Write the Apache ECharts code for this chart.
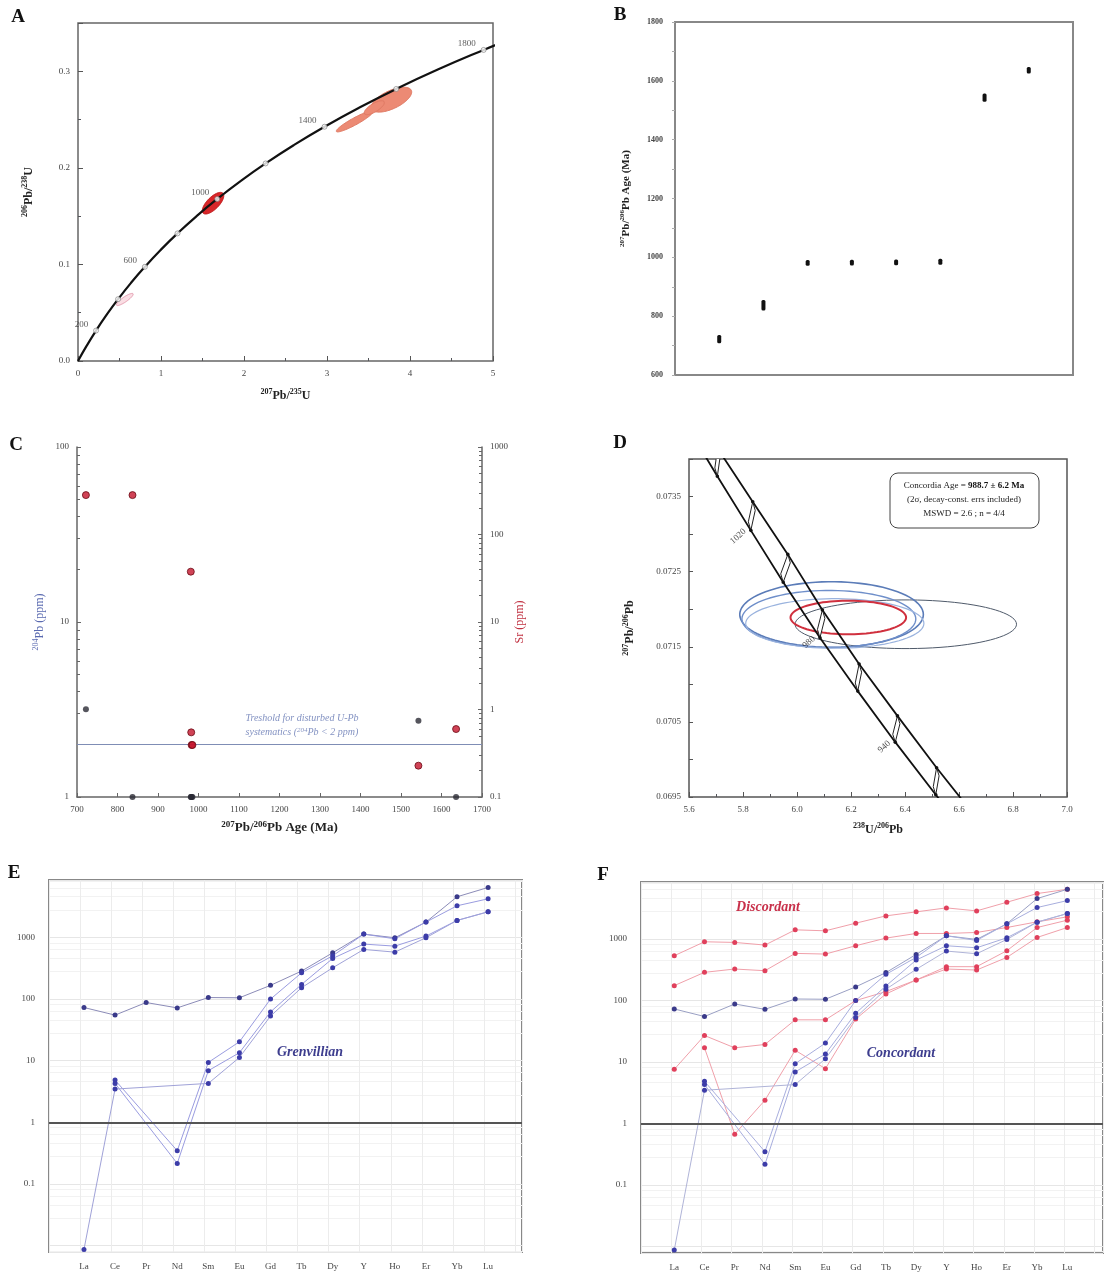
<!DOCTYPE html>
<html><head><meta charset="utf-8">
<script src="https://cdn.jsdelivr.net/npm/echarts@6/dist/echarts.min.js"></script>
<style>html,body{margin:0;padding:0;background:#fff}#c{width:1105px;height:1274px}</style>
</head><body><div id="c"></div>
<script>
// ================= DATA =================
// Panel A: Wetherill concordia reference (age in Ma, 207Pb/235U, 206Pb/238U)
const concAges = [0,100,200,300,400,500,600,700,800,900,1000,1100,1200,1300,1400,1500,1600,1700,1800,1850];
const concX = [0,0.1035,0.2177,0.3437,0.4828,0.6363,0.8056,0.9925,1.1987,1.4263,1.6774,1.9545,2.2603,2.5977,2.9701,3.3810,3.8344,4.3348,4.8869,5.1840];
const concY = [0,0.01563,0.03151,0.04764,0.06402,0.08065,0.09754,0.11470,0.13213,0.14982,0.16780,0.18604,0.20459,0.22343,0.24257,0.26200,0.28172,0.30177,0.32212,0.33239];
const concLabelAges = [200,600,1000,1400,1800];
// Panel A error ellipses: [centre x, centre y, half-axis u (x,y), half-axis v (x,y)]
const ellA1 = [0.564, 0.0637, 0.099, 0.0059, -0.017, 0.0021];
const ellA2 = [1.627, 0.1634, 0.119, 0.0103, -0.051, 0.0044];
const ellA3 = [3.334, 0.2481, 0.221, 0.0104, -0.020, 0.0032];
const ellA4 = [3.776, 0.2706, 0.240, 0.0097, -0.046, 0.0085];
const ellA5 = [3.570, 0.2623, 0.120, 0.0060, -0.020, 0.0040];

// Panel B / C: grains
const grainIndex = [1,2,3,4,5,6,7,8];
const grainAge = [722,837,981,982,983,985,1543,1636];
const grainErr = [14,18,10,10,10,10,14,11];
const pb204 = [3.17,1,1,1,1,1,2.73,1];
const srPpm = [282,282,37.6,0.548,0.393,0.393,0.228,0.598];
const pbThreshold = 2;

// Panel D: Tera-Wasserburg concordia band (age Ma, upper line x/y, lower line x/y)
const bandAges = [1060,1040,1020,1000,980,960,940,920,900];
const bandRX = [5.578,5.706,5.836,5.966,6.094,6.230,6.372,6.517,6.667];
const bandRY = [0.07486,0.07414,0.07343,0.07273,0.07199,0.07127,0.07058,0.06989,0.06921];
const bandLX = [5.583,5.705,5.829,5.949,6.085,6.225,6.364,6.514,6.663];
const bandLY = [0.07450,0.07377,0.07305,0.07236,0.07162,0.07091,0.07023,0.06953,0.06885];
const bandLabelAges = [1020,980,940];
// Panel D ellipses: [cx, cy, ux, uy, vx, vy]
const ellD_blue1 = [6.128, 0.07193, 0.340, 0, 0, 0.000436];
const ellD_blue2 = [6.118, 0.07187, 0.322, 0, 0, 0.000380];
const ellD_blue3 = [6.140, 0.07181, 0.330, 0, 0, 0.000330];
const ellD_grey  = [6.403, 0.07180, 0.410, 0, 0, 0.000324];
const ellD_red   = [6.190, 0.07189, 0.214, 0, 0, 0.000224];

// Panels E / F: chondrite-normalised REE
const ree = ['La','Ce','Pr','Nd','Sm','Eu','Gd','Tb','Dy','Y','Ho','Er','Yb','Lu'];
const concFlat = [73,55,88,72,106,105,167,285,564,1133,988,1774,4567,6470];
const concB = [null,4.86,null,0.347,9.4,20.3,100,267,504,1133,951,1774,3264,4236];
const concC = [null,4.29,null,0.216,6.9,13.5,62,173,456,780,723,1051,1888,2608];
const concA = [0.0087,3.47,null,null,4.29,11.3,53,153,322,639,578,988,1888,2608];
const disc1 = [537,905,883,800,1416,1365,1817,2388,2775,3223,2880,3981,5510,6470];
const disc2 = [175,288,326,306,586,571,780,1038,1236,1236,1283,1545,1911,2301];
const disc3 = [7.6,27,17,19.3,48.6,48.6,100,140,216,356,356,647,1545,2032];
const disc4 = [null,17,0.67,2.39,15.5,7.8,50,128,216,326,314,504,1064,1545];

// ================= CHART =================
const SERIF = 'Liberation Serif';
const chart = echarts.init(document.getElementById('c'));
const lbl = (o) => Object.assign({fontFamily: SERIF, fontSize: 9, color: '#444'}, o || {});
const supRich = (size, weight, color) => ({s: {fontFamily: SERIF, fontSize: size, fontWeight: weight, color: color, verticalAlign: 'top'}});
const nameStyle = (o, supSize) => {
  const base = Object.assign({fontFamily: SERIF, fontSize: 12, fontWeight: 'bold', color: '#222'}, o || {});
  base.rich = supRich(supSize || 8, base.fontWeight, base.color);
  base.lineHeight = base.fontSize + 3;
  return base;
};
const plain = v => String(parseFloat(Number(v).toPrecision(6)));

function ellipseSeries(xi, yi, e, style, z) {
  return {
    type: 'custom', xAxisIndex: xi, yAxisIndex: yi, clip: true, z: z || 3, silent: true,
    data: [e],
    renderItem: (p, api) => {
      const cx = api.value(0), cy = api.value(1), ux = api.value(2), uy = api.value(3), vx = api.value(4), vy = api.value(5);
      const pts = [];
      for (let k = 0; k < 90; k++) {
        const t = k / 90 * Math.PI * 2;
        pts.push(api.coord([cx + ux * Math.cos(t) + vx * Math.sin(t), cy + uy * Math.cos(t) + vy * Math.sin(t)]));
      }
      return {type: 'polygon', shape: {points: pts}, style: style};
    }
  };
}

const logLabel = (v) => {
  const l = Math.log10(v), r = Math.round(l);
  if (Math.abs(l - r) > 1e-6 || r < -1 || r > 3) return '';
  return r < 0 ? String(Math.pow(10, r).toFixed(-r)) : String(Math.pow(10, r));
};
const reeLabel = (v) => { const i = Math.round(v); return (Math.abs(v - i) < 1e-6 && i >= 0 && i < ree.length) ? ree[i] : ''; };

function reeSeries(vals, xi, yi, lineColor, markColor, extra) {
  return Object.assign({
    type: 'line', xAxisIndex: xi, yAxisIndex: yi, connectNulls: true, silent: true,
    data: vals.map((v, i) => [i, v]), symbol: 'circle', symbolSize: 5,
    lineStyle: {color: lineColor, width: 1}, itemStyle: {color: markColor}, z: 4
  }, extra || {});
}
const oneLine = {silent: true, symbol: 'none', label: {show: false}, lineStyle: {color: '#555', width: 2, type: 'solid'}, data: [{yAxis: 1}]};

const ageMarks = concAges.map((a, i) => [concX[i], concY[i], a]).filter(d => d[2] > 0 && d[2] % 200 === 0);

const option = {
  animation: false,
  backgroundColor: '#fff',
  grid: [
    {left: 78, top: 23, width: 415, height: 338, show: true, borderColor: '#666', borderWidth: 1.5},
    {left: 675, top: 22, width: 398, height: 353, show: true, borderColor: '#888', borderWidth: 2},
    {left: 77, top: 447, width: 405, height: 350, show: false},
    {left: 689, top: 459, width: 378, height: 338, show: true, borderColor: '#555', borderWidth: 1.5},
    {left: 49, top: 880, width: 473, height: 372, show: true, borderColor: '#888', borderWidth: 2},
    {left: 641, top: 882, width: 462, height: 371, show: true, borderColor: '#888', borderWidth: 2}
  ],
  xAxis: [
    {gridIndex: 0, type: 'value', min: 0, max: 5, interval: 1, axisLine: {show: false},
     axisTick: {inside: true, length: 5, lineStyle: {color: '#555'}}, minorTick: {show: true, splitNumber: 2, length: 3},
     axisLabel: lbl({formatter: plain}), splitLine: {show: false},
     name: '{s|207}Pb/{s|235}U', nameLocation: 'middle', nameGap: 27, nameTextStyle: nameStyle()},
    {gridIndex: 1, type: 'value', min: 0, max: 9, axisLine: {show: false}, axisTick: {show: false}, axisLabel: {show: false}, splitLine: {show: false}},
    {gridIndex: 2, type: 'value', min: 700, max: 1700, interval: 100,
     axisLine: {lineStyle: {color: '#666', width: 1.5}}, axisTick: {inside: true, length: 4, lineStyle: {color: '#666'}},
     axisLabel: lbl({formatter: plain}), splitLine: {show: false},
     name: '{s|207}Pb/{s|206}Pb Age (Ma)', nameLocation: 'middle', nameGap: 23, nameTextStyle: nameStyle({fontSize: 13}, 9)},
    {gridIndex: 3, type: 'value', min: 5.6, max: 7.0, interval: 0.2, axisLine: {show: false},
     axisTick: {inside: true, length: 5, lineStyle: {color: '#555'}}, minorTick: {show: true, splitNumber: 2, length: 3},
     axisLabel: lbl({formatter: v => v.toFixed(1)}), splitLine: {show: false},
     name: '{s|238}U/{s|206}Pb', nameLocation: 'middle', nameGap: 25, nameTextStyle: nameStyle()},
    {gridIndex: 4, type: 'value', min: -1.125, max: 14.09, interval: 1, axisLine: {show: false}, axisTick: {show: false},
     axisLabel: lbl({customValues: ree.map((r, i) => i), formatter: reeLabel, margin: 10}),
     splitLine: {show: true, lineStyle: {color: '#ececec', width: 1}}},
    {gridIndex: 5, type: 'value', min: -1.1, max: 14.18, interval: 1, axisLine: {show: false}, axisTick: {show: false},
     axisLabel: lbl({customValues: ree.map((r, i) => i), formatter: reeLabel, margin: 10}),
     splitLine: {show: true, lineStyle: {color: '#ececec', width: 1}}}
  ],
  yAxis: [
    {gridIndex: 0, type: 'value', min: 0, max: 0.35, interval: 0.1, axisLine: {show: false},
     axisTick: {inside: true, length: 5, lineStyle: {color: '#555'}}, minorTick: {show: true, splitNumber: 2, length: 3},
     axisLabel: lbl({formatter: v => v > 0.34 ? '' : v.toFixed(1)}), splitLine: {show: false},
     name: '{s|206}Pb/{s|238}U', nameLocation: 'middle', nameGap: 42, nameRotate: 90, nameTextStyle: nameStyle()},
    {gridIndex: 1, type: 'value', min: 600, max: 1800, interval: 200, axisLine: {show: false},
     axisTick: {inside: false, length: 3, lineStyle: {color: '#aaa'}}, minorTick: {show: true, splitNumber: 2, length: 3, lineStyle: {color: '#aaa'}},
     axisLabel: lbl({fontWeight: 'bold', fontSize: 8, margin: 12, formatter: plain}), splitLine: {show: false},
     name: '{s|207}Pb/{s|206}Pb Age (Ma)', nameLocation: 'middle', nameGap: 42, nameRotate: 90, nameTextStyle: nameStyle({fontSize: 11}, 7)},
    {gridIndex: 2, type: 'log', logBase: 10, min: 1, max: 100, position: 'left',
     axisLine: {show: true, lineStyle: {color: '#666', width: 1.5}}, axisTick: {inside: true, length: 4, lineStyle: {color: '#666'}},
     minorTick: {show: true, splitNumber: 9, length: 3}, axisLabel: lbl({formatter: plain}), splitLine: {show: false},
     name: '{s|204}Pb (ppm)', nameLocation: 'middle', nameGap: 30, nameRotate: 90, nameTextStyle: nameStyle({fontWeight: 'normal', color: '#5a6ab0', fontSize: 12})},
    {gridIndex: 2, type: 'log', logBase: 10, min: 0.1, max: 1000, position: 'right',
     axisLine: {show: true, lineStyle: {color: '#666', width: 1.5}}, axisTick: {inside: true, length: 4, lineStyle: {color: '#666'}},
     minorTick: {show: true, splitNumber: 9, length: 3}, axisLabel: lbl({formatter: plain}), splitLine: {show: false},
     name: 'Sr (ppm)', nameLocation: 'middle', nameGap: 30, nameRotate: 90, nameTextStyle: nameStyle({fontWeight: 'normal', color: '#c03040', fontSize: 12})},
    {gridIndex: 3, type: 'value', min: 0.0695, max: 0.0740, interval: 0.0005, axisLine: {show: false},
     axisTick: {inside: true, length: 4, lineStyle: {color: '#555'}},
     axisLabel: lbl({formatter: v => (Math.round(v / 0.0005) % 2 === 1) ? v.toFixed(4) : ''}), splitLine: {show: false},
     name: '{s|207}Pb/{s|206}Pb', nameLocation: 'middle', nameGap: 52, nameRotate: 90, nameTextStyle: nameStyle()},
    {gridIndex: 4, type: 'log', logBase: 10, min: 0.0079, max: 8550, axisLine: {show: false}, axisTick: {show: false},
     axisLabel: lbl({formatter: logLabel, margin: 14}),
     splitLine: {show: true, lineStyle: {color: '#e6e6e6'}}, minorSplitLine: {show: true, lineStyle: {color: '#f2f2f2'}}},
    {gridIndex: 5, type: 'log', logBase: 10, min: 0.0078, max: 8500, axisLine: {show: false}, axisTick: {show: false},
     axisLabel: lbl({formatter: logLabel, margin: 14}),
     splitLine: {show: true, lineStyle: {color: '#e6e6e6'}}, minorSplitLine: {show: true, lineStyle: {color: '#f2f2f2'}}}
  ],
  series: [
    // ----- A -----
    ellipseSeries(0, 0, ellA1, {fill: 'rgba(246,200,210,0.6)', stroke: '#e59aae', lineWidth: 1}),
    ellipseSeries(0, 0, ellA2, {fill: '#d8262a', stroke: '#c01818', lineWidth: 1}),
    ellipseSeries(0, 0, ellA3, {fill: '#ec8a74', stroke: '#e07a64', lineWidth: 1}),
    ellipseSeries(0, 0, ellA4, {fill: '#ec8a74', stroke: '#e07a64', lineWidth: 1}),
    ellipseSeries(0, 0, ellA5, {fill: '#ec8a74', stroke: '#e07a64', lineWidth: 1}),
    {type: 'line', xAxisIndex: 0, yAxisIndex: 0, data: concAges.map((a, i) => [concX[i], concY[i]]), smooth: true,
     showSymbol: false, lineStyle: {color: '#111', width: 2.2}, clip: true, silent: true, z: 5},
    {type: 'scatter', xAxisIndex: 0, yAxisIndex: 0, data: ageMarks, symbol: 'circle', symbolSize: 5,
     itemStyle: {color: '#fff', borderColor: '#777', borderWidth: 0.8}, z: 6, silent: true,
     label: {show: true, position: 'left', distance: 5, offset: [0, -6], fontFamily: SERIF, fontSize: 9, color: '#333',
       formatter: p => concLabelAges.includes(p.data[2]) ? String(p.data[2]) : ''}},
    // ----- B -----
    {type: 'custom', xAxisIndex: 1, yAxisIndex: 1, silent: true,
     data: grainIndex.map((g, k) => [g, grainAge[k], grainErr[k]]),
     renderItem: (p, api) => {
       const lo = api.coord([api.value(0), api.value(1) - api.value(2)]);
       const hi = api.coord([api.value(0), api.value(1) + api.value(2)]);
       return {type: 'rect', shape: {x: lo[0] - 2, y: hi[1], width: 4, height: lo[1] - hi[1], r: 1.5}, style: {fill: '#111'}};
     }},
    // ----- C -----
    {type: 'scatter', xAxisIndex: 2, yAxisIndex: 2, data: grainAge.map((a, k) => [a, pb204[k]]), symbolSize: 6,
     itemStyle: {color: '#2b2b35'}, silent: true, clip: false, z: 5,
     markLine: {silent: true, symbol: 'none', label: {show: false}, lineStyle: {color: '#7f8db5', width: 1, type: 'solid'}, data: [{yAxis: pbThreshold}]}},
    {type: 'scatter', xAxisIndex: 2, yAxisIndex: 3, data: grainAge.map((a, k) => [a, srPpm[k]]), symbolSize: 7,
     itemStyle: {color: '#c4142c', borderColor: '#6a0a14', borderWidth: 1}, silent: true, z: 6},
    // ----- D -----
    ellipseSeries(3, 4, ellD_grey, {fill: 'none', stroke: '#4f5a6a', lineWidth: 1}),
    ellipseSeries(3, 4, ellD_blue1, {fill: 'none', stroke: '#5b7cb8', lineWidth: 1.6}),
    ellipseSeries(3, 4, ellD_blue2, {fill: 'none', stroke: '#6f8fca', lineWidth: 1.4}),
    ellipseSeries(3, 4, ellD_blue3, {fill: 'none', stroke: '#9ab3de', lineWidth: 1.2}),
    ellipseSeries(3, 4, ellD_red, {fill: 'none', stroke: '#d0303e', lineWidth: 2}),
    {type: 'line', xAxisIndex: 3, yAxisIndex: 4, data: bandAges.map((a, i) => [bandRX[i], bandRY[i]]), showSymbol: false,
     lineStyle: {color: '#111', width: 1.8}, clip: true, silent: true, z: 5},
    {type: 'line', xAxisIndex: 3, yAxisIndex: 4, data: bandAges.map((a, i) => [bandLX[i], bandLY[i]]), showSymbol: false,
     lineStyle: {color: '#111', width: 1.8}, clip: true, silent: true, z: 5},
    {type: 'custom', xAxisIndex: 3, yAxisIndex: 4, clip: true, silent: true, z: 6,
     data: bandAges.map((a, i) => [a, bandRX[i], bandRY[i], bandLX[i], bandLY[i]]),
     renderItem: (p, api) => {
       const r = api.coord([api.value(1), api.value(2)]);
       const l = api.coord([api.value(3), api.value(4)]);
       const h = l[1] - r[1];
       return {type: 'group', children: [
         {type: 'polygon', shape: {points: [[r[0], r[1]], [r[0] + 2.5, r[1] + h * 0.3], [l[0], l[1]], [l[0] - 2.5, l[1] - h * 0.3]]},
          style: {fill: '#fff', stroke: '#222', lineWidth: 1}},
         {type: 'circle', shape: {cx: r[0], cy: r[1], r: 1.8}, style: {fill: '#111'}},
         {type: 'circle', shape: {cx: l[0], cy: l[1], r: 1.8}, style: {fill: '#111'}}
       ]};
     }},
    {type: 'scatter', xAxisIndex: 3, yAxisIndex: 4, silent: true, symbolSize: 0, z: 7,
     data: bandAges.map((a, i) => [bandLX[i], bandLY[i], a]).filter(d => bandLabelAges.includes(d[2])),
     label: {show: true, position: 'left', distance: 6, rotate: 42, fontFamily: SERIF, fontSize: 9, color: '#222',
       formatter: p => String(p.data[2])}},
    // ----- E -----
    reeSeries(concFlat, 4, 5, '#8c8cb8', '#3a3a8a', {markLine: oneLine}),
    reeSeries(concB, 4, 5, '#9a9ce0', '#3c3ca8'),
    reeSeries(concC, 4, 5, '#9a9ce0', '#3c3ca8'),
    reeSeries(concA, 4, 5, '#a0a2d8', '#3c3ca8'),
    // ----- F -----
    reeSeries(disc1, 5, 6, '#f0a0aa', '#e0405c', {markLine: oneLine}),
    reeSeries(disc2, 5, 6, '#f0a0aa', '#e0405c'),
    reeSeries(disc3, 5, 6, '#f0a0aa', '#e0405c'),
    reeSeries(disc4, 5, 6, '#f0a0aa', '#e0405c'),
    reeSeries(concFlat, 5, 6, '#9aa0c4', '#3a3a8a'),
    reeSeries(concB, 5, 6, '#a8aede', '#3c3ca8'),
    reeSeries(concC, 5, 6, '#a8aede', '#3c3ca8'),
    reeSeries(concA, 5, 6, '#b0b4d8', '#3c3ca8')
  ],
  graphic: [
    {type: 'text', x: 18, y: 17, style: {text: 'A', fontFamily: SERIF, fontSize: 19, fontWeight: 'bold', fill: '#111', align: 'center', verticalAlign: 'middle'}},
    {type: 'text', x: 620, y: 15, style: {text: 'B', fontFamily: SERIF, fontSize: 19, fontWeight: 'bold', fill: '#111', align: 'center', verticalAlign: 'middle'}},
    {type: 'text', x: 16, y: 445, style: {text: 'C', fontFamily: SERIF, fontSize: 19, fontWeight: 'bold', fill: '#111', align: 'center', verticalAlign: 'middle'}},
    {type: 'text', x: 620, y: 443, style: {text: 'D', fontFamily: SERIF, fontSize: 19, fontWeight: 'bold', fill: '#111', align: 'center', verticalAlign: 'middle'}},
    {type: 'text', x: 14, y: 873, style: {text: 'E', fontFamily: SERIF, fontSize: 19, fontWeight: 'bold', fill: '#111', align: 'center', verticalAlign: 'middle'}},
    {type: 'text', x: 603, y: 875, style: {text: 'F', fontFamily: SERIF, fontSize: 19, fontWeight: 'bold', fill: '#111', align: 'center', verticalAlign: 'middle'}},
    {type: 'text', x: 302, y: 718, style: {text: 'Treshold for disturbed U-Pb', fontFamily: SERIF, fontSize: 10, fontStyle: 'italic', fill: '#8392c2', align: 'center', verticalAlign: 'middle'}},
    {type: 'text', x: 302, y: 732, style: {text: 'systematics ({s|204}Pb < 2 ppm)', fontFamily: SERIF, fontSize: 10, fontStyle: 'italic', fill: '#8392c2', align: 'center', verticalAlign: 'middle',
      rich: {s: {fontFamily: SERIF, fontSize: 7, fontStyle: 'italic', fill: '#8392c2', verticalAlign: 'top'}}}},
    {type: 'rect', shape: {x: 890, y: 473, width: 149, height: 55, r: 8}, style: {fill: '#fff', stroke: '#444', lineWidth: 1}, z: 100},
    {type: 'text', x: 964, y: 486, z: 101, style: {text: '{n|Concordia Age = }{b|988.7 ± 6.2 Ma}', align: 'center', verticalAlign: 'middle',
      rich: {n: {fontFamily: SERIF, fontSize: 9, fill: '#222'}, b: {fontFamily: SERIF, fontSize: 9, fontWeight: 'bold', fill: '#111'}}}},
    {type: 'text', x: 964, y: 500, z: 101, style: {text: '(2σ, decay-const. errs included)', fontFamily: SERIF, fontSize: 9, fill: '#222', align: 'center', verticalAlign: 'middle'}},
    {type: 'text', x: 964, y: 514, z: 101, style: {text: 'MSWD = 2.6 ; n = 4/4', fontFamily: SERIF, fontSize: 9, fill: '#222', align: 'center', verticalAlign: 'middle'}},
    {type: 'text', x: 310, y: 1052, z: 100, style: {text: 'Grenvillian', fontFamily: SERIF, fontSize: 14, fontStyle: 'italic', fontWeight: 'bold', fill: '#3d3d8e', align: 'center', verticalAlign: 'middle'}},
    {type: 'text', x: 901, y: 1053, z: 100, style: {text: 'Concordant', fontFamily: SERIF, fontSize: 14, fontStyle: 'italic', fontWeight: 'bold', fill: '#3d3d8e', align: 'center', verticalAlign: 'middle'}},
    {type: 'text', x: 768, y: 907, z: 100, style: {text: 'Discordant', fontFamily: SERIF, fontSize: 14, fontStyle: 'italic', fontWeight: 'bold', fill: '#c8304a', align: 'center', verticalAlign: 'middle'}}
  ]
};
chart.setOption(option);
</script></body></html>
